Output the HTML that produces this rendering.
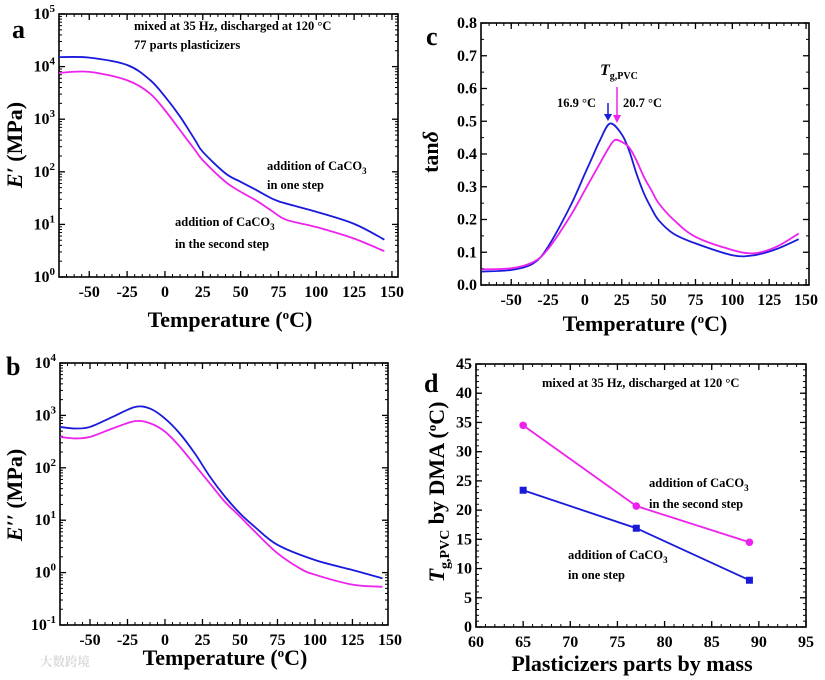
<!DOCTYPE html>
<html><head><meta charset="utf-8"><style>
body{margin:0;background:#fff}
svg{display:block;font-family:"Liberation Serif","Noto Serif CJK SC",serif}
.tk{font-size:16px;font-weight:bold}
.ttl{font-size:22px;font-weight:bold}
.ann{font-size:12.5px;font-weight:bold}
.pl{font-size:26px;font-weight:bold}
</style></head><body>
<svg id="fig" width="825" height="680" viewBox="0 0 825 680"></svg>
<script>
// Panel a: storage modulus E' (log10 values)
const aTemp1=[-70,-50,-25,-10,0,10,20,25,40,50,60,65,75,100,125,145];
const aOneStep=[4.18,4.17,4.03,3.75,3.43,3.05,2.6,2.38,1.97,1.81,1.66,1.58,1.44,1.24,1.01,0.71];
const aTemp2=[-70,-50,-25,-10,0,10,20,25,40,50,60,70,80,100,125,145];
const aSecondStep=[3.88,3.9,3.74,3.49,3.17,2.79,2.41,2.22,1.81,1.62,1.46,1.27,1.09,0.95,0.73,0.49];
// Panel b: loss modulus E'' (log10 values)
const bTemp1=[-70,-60,-50,-35,-20,-10,0,10,20,30,40,50,60,75,100,125,145];
const bOneStep=[2.78,2.75,2.78,2.97,3.16,3.13,2.94,2.65,2.27,1.83,1.45,1.13,0.87,0.53,0.24,0.05,-0.11];
const bTemp2=[-70,-60,-50,-35,-20,-10,0,10,20,30,40,50,60,75,90,100,125,145];
const bSecondStep=[2.59,2.56,2.59,2.75,2.89,2.85,2.69,2.4,2.05,1.7,1.35,1.07,0.78,0.37,0.08,-0.04,-0.23,-0.27];
// Panel c: tan delta
const cTemp1=[-70,-50,-35,-25,-10,0,5,10,17,25,30,35,40,45,50,60,75,100,115,130,145];
const cOneStep=[0.041,0.046,0.066,0.117,0.24,0.34,0.39,0.44,0.493,0.46,0.41,0.34,0.28,0.235,0.198,0.157,0.127,0.091,0.091,0.11,0.14];
const cTemp2=[-70,-50,-35,-25,-10,0,5,10,15,20,25,30,35,40,45,50,60,75,100,115,130,145];
const cSecondStep=[0.048,0.051,0.07,0.11,0.21,0.29,0.33,0.37,0.41,0.442,0.437,0.42,0.38,0.33,0.29,0.25,0.2,0.147,0.107,0.097,0.117,0.157];
// Panel d: Tg vs plasticizer
const dParts=[65,77,89];
const dSecondStep=[34.5,20.7,14.5];
const dOneStep=[23.4,16.9,8.0];
const tempTicks=[-50,-25,0,25,50,75,100,125,150];

const NS="http://www.w3.org/2000/svg";
const svg=document.getElementById('fig');
function el(tag,attrs,parent,txt){const e=document.createElementNS(NS,tag);for(const k in attrs)e.setAttribute(k,attrs[k]);if(txt!==undefined)e.innerHTML=txt;(parent||svg).appendChild(e);return e;}
function lin(d0,d1,r0,r1){return v=>r0+(v-d0)/(d1-d0)*(r1-r0);}
function smooth(pts){let d='M'+pts[0][0]+','+pts[0][1];for(let i=0;i<pts.length-1;i++){const p0=pts[i-1]||pts[i],p1=pts[i],p2=pts[i+1],p3=pts[i+2]||p2;d+=' C'+(p1[0]+(p2[0]-p0[0])/6)+','+(p1[1]+(p2[1]-p0[1])/6)+' '+(p2[0]-(p3[0]-p1[0])/6)+','+(p2[1]-(p3[1]-p1[1])/6)+' '+p2[0]+','+p2[1];}return d;}

function panel(name,L,R,T,B,xd,yd,xticks,xminor,yticks,yminor,ylab){
  const g=el('g',{});
  const X=lin(xd[0],xd[1],L,R),Y=lin(yd[0],yd[1],B,T);
  const ax=el('g',{},g);
  xminor.forEach(v=>{const x=X(v);if(x<=L||x>=R)return;el('line',{x1:x,x2:x,y1:B,y2:B-3,stroke:'#000','stroke-width':1},ax);el('line',{x1:x,x2:x,y1:T,y2:T+3,stroke:'#000','stroke-width':1},ax);});
  xticks.forEach(v=>{const x=X(v);if(x<L-0.5||x>R+0.5)return;el('line',{x1:x,x2:x,y1:B,y2:B-6,stroke:'#000','stroke-width':1.3},ax);el('line',{x1:x,x2:x,y1:T,y2:T+6,stroke:'#000','stroke-width':1.3},ax);});
  xticks.forEach(v=>{const x=X(v);const t=el('text',{x:x,y:B+20,'text-anchor':'middle',class:'tk'},ax,v);});
  yminor.forEach(v=>{const y=Y(v);el('line',{x1:L,x2:L+3,y1:y,y2:y,stroke:'#000','stroke-width':1},ax);el('line',{x1:R,x2:R-3,y1:y,y2:y,stroke:'#000','stroke-width':1},ax);});
  yticks.forEach((v,i)=>{const y=Y(v);el('line',{x1:L,x2:L+6,y1:y,y2:y,stroke:'#000','stroke-width':1.3},ax);el('line',{x1:R,x2:R-6,y1:y,y2:y,stroke:'#000','stroke-width':1.3},ax);
    const t=el('text',{x:L-4,y:y+5,'text-anchor':'end',class:'tk'},ax,ylab(v,i));});
  el('rect',{x:L,y:T,width:R-L,height:B-T,fill:'none',stroke:'#000','stroke-width':1.6},ax);
  return {g,X,Y};
}
function curve(p,xs,ys,color,name){const pts=xs.map((x,i)=>[p.X(x),p.Y(ys[i])]);const e=el('path',{d:smooth(pts),fill:'none',stroke:color,'stroke-width':1.8},p.g);return pts;}
function txt(x,y,s,cls,name,extra){const t=el('text',Object.assign({x:x,y:y,class:cls},extra||{}),svg,s);return t;}
function range(a,b,s){const r=[];for(let v=a;v<=b+1e-9;v+=s)r.push(+v.toFixed(4));return r;}
function logMinor(a,b){const r=[];for(let d=a;d<b;d++)for(let k=2;k<10;k++)r.push(d+Math.log10(k));return r;}
const BLUE='#1a1adb',PINK='#ee22ee';
const powLab=v=>'10<tspan dy="-7" font-size="11">'+v+'</tspan>';

// Panel a
const pa=panel('panel-a',59,398,14,277,[-70,154],[0,5],tempTicks,range(-65,150,5),[0,1,2,3,4,5],logMinor(0,5),powLab);
curve(pa,aTemp1,aOneStep,BLUE,'series-a-one-step');
curve(pa,aTemp2,aSecondStep,PINK,'series-a-second-step');
txt(12,38,'a','pl','panel-a-label');
txt(134,30,'mixed at 35 Hz, discharged at 120 °C','ann','panel-a-note');
txt(134,49,'77 parts plasticizers','ann','panel-a-note-2');
txt(267,170,'addition of CaCO<tspan dy="4" font-size="9">3</tspan>','ann','label-a-one-step');
txt(267,189,'in one step','ann','label-a-one-step-2');
txt(175,226,'addition of CaCO<tspan dy="4" font-size="9">3</tspan>','ann','label-a-second-step');
txt(175,248,'in the second step','ann','label-a-second-step-2');
txt(230,327,'Temperature (<tspan dy="-8" font-size="13">o</tspan><tspan dy="8">C)</tspan>','ttl','x-axis-title-a',{'text-anchor':'middle'});
txt(0,0,'<tspan font-style="italic">E′</tspan> (MPa)','ttl','y-axis-title-a',{'text-anchor':'middle',transform:'translate(22,145) rotate(-90)'});

// Panel b
const pb=panel('panel-b',60,388,363,625,[-70,148.7],[-1,4],tempTicks,range(-65,145,5),[-1,0,1,2,3,4],logMinor(-1,4),powLab);
curve(pb,bTemp1,bOneStep,BLUE,'series-b-one-step');
curve(pb,bTemp2,bSecondStep,PINK,'series-b-second-step');
txt(6,375,'b','pl','panel-b-label');
txt(225,665,'Temperature (<tspan dy="-8" font-size="13">o</tspan><tspan dy="8">C)</tspan>','ttl','x-axis-title-b',{'text-anchor':'middle'});
txt(0,0,'<tspan font-style="italic">E′′</tspan> (MPa)','ttl','y-axis-title-b',{'text-anchor':'middle',transform:'translate(22,495) rotate(-90)'});
txt(40,666,'大数跨境','ann','watermark',{fill:'#d8d8d8','font-size':'15'});

// Panel c
const pc=panel('panel-c',481,809,23,285,[-70.5,152],[0,0.8],tempTicks,range(-65,150,5),range(0,0.8,0.1),range(0.05,0.8,0.1),v=>v.toFixed(1));
curve(pc,cTemp1,cOneStep,BLUE,'series-c-one-step');
curve(pc,cTemp2,cSecondStep,PINK,'series-c-second-step');
txt(426,45,'c','pl','panel-c-label');
txt(600,75,'<tspan font-style="italic" font-size="16">T</tspan><tspan dy="4" font-size="10">g,PVC</tspan>','ann','tg-label');
txt(557,107,'16.9 °C','ann','tg-one-step-value');
txt(623,107,'20.7 °C','ann','tg-second-step-value');
el('line',{x1:608,x2:608,y1:103,y2:118,stroke:BLUE,'stroke-width':1.5});
el('path',{d:'M604,114 L608,121 L612,114 Z',fill:BLUE});
el('line',{x1:617,x2:617,y1:87,y2:119,stroke:PINK,'stroke-width':1.5});
el('path',{d:'M613,115 L617,123 L621,115 Z',fill:PINK});
txt(645,331,'Temperature (<tspan dy="-8" font-size="13">o</tspan><tspan dy="8">C)</tspan>','ttl','x-axis-title-c',{'text-anchor':'middle'});
txt(0,0,'tan<tspan font-style="italic">δ</tspan>','ttl','y-axis-title-c',{'text-anchor':'middle',transform:'translate(438,152) rotate(-90)'});

// Panel d
const pd=panel('panel-d',476,806,364,627,[60,95],[0,45],range(60,95,5),range(61,95,1),range(0,45,5),range(1,45,1),v=>v);
[[dSecondStep,PINK,'second-step'],[dOneStep,BLUE,'one-step']].forEach(([ys,c,n])=>{
  const pts=dParts.map((x,i)=>[pd.X(x),pd.Y(ys[i])]);
  const l=el('polyline',{points:pts.map(p=>p.join(',')).join(' '),fill:'none',stroke:c,'stroke-width':1.8},pd.g);
  
  pts.forEach(p=>{const m=n==='one-step'?el('rect',{x:p[0]-3.5,y:p[1]-3.5,width:7,height:7,fill:c},pd.g):el('circle',{cx:p[0],cy:p[1],r:3.8,fill:c},pd.g);
    });
});
txt(424,392,'d','pl','panel-d-label',{'font-weight':'normal','font-size':'30'});
txt(542,387,'mixed at 35 Hz, discharged at 120 °C','ann','panel-d-note');
txt(649,487,'addition of CaCO<tspan dy="4" font-size="9">3</tspan>','ann','label-d-second-step');
txt(649,508,'in the second step','ann','label-d-second-step-2');
txt(568,559,'addition of CaCO<tspan dy="4" font-size="9">3</tspan>','ann','label-d-one-step');
txt(568,579,'in one step','ann','label-d-one-step-2');
txt(632,671,'Plasticizers parts by mass','ttl','x-axis-title-d',{'text-anchor':'middle'});
txt(0,0,'<tspan font-style="italic">T</tspan><tspan dy="5" font-size="14">g,PVC</tspan><tspan dy="-5"> by DMA (</tspan><tspan dy="-8" font-size="13">o</tspan><tspan dy="8">C)</tspan>','ttl','y-axis-title-d',{'text-anchor':'middle',transform:'translate(444,492) rotate(-90)'});
</script>
</body></html>
